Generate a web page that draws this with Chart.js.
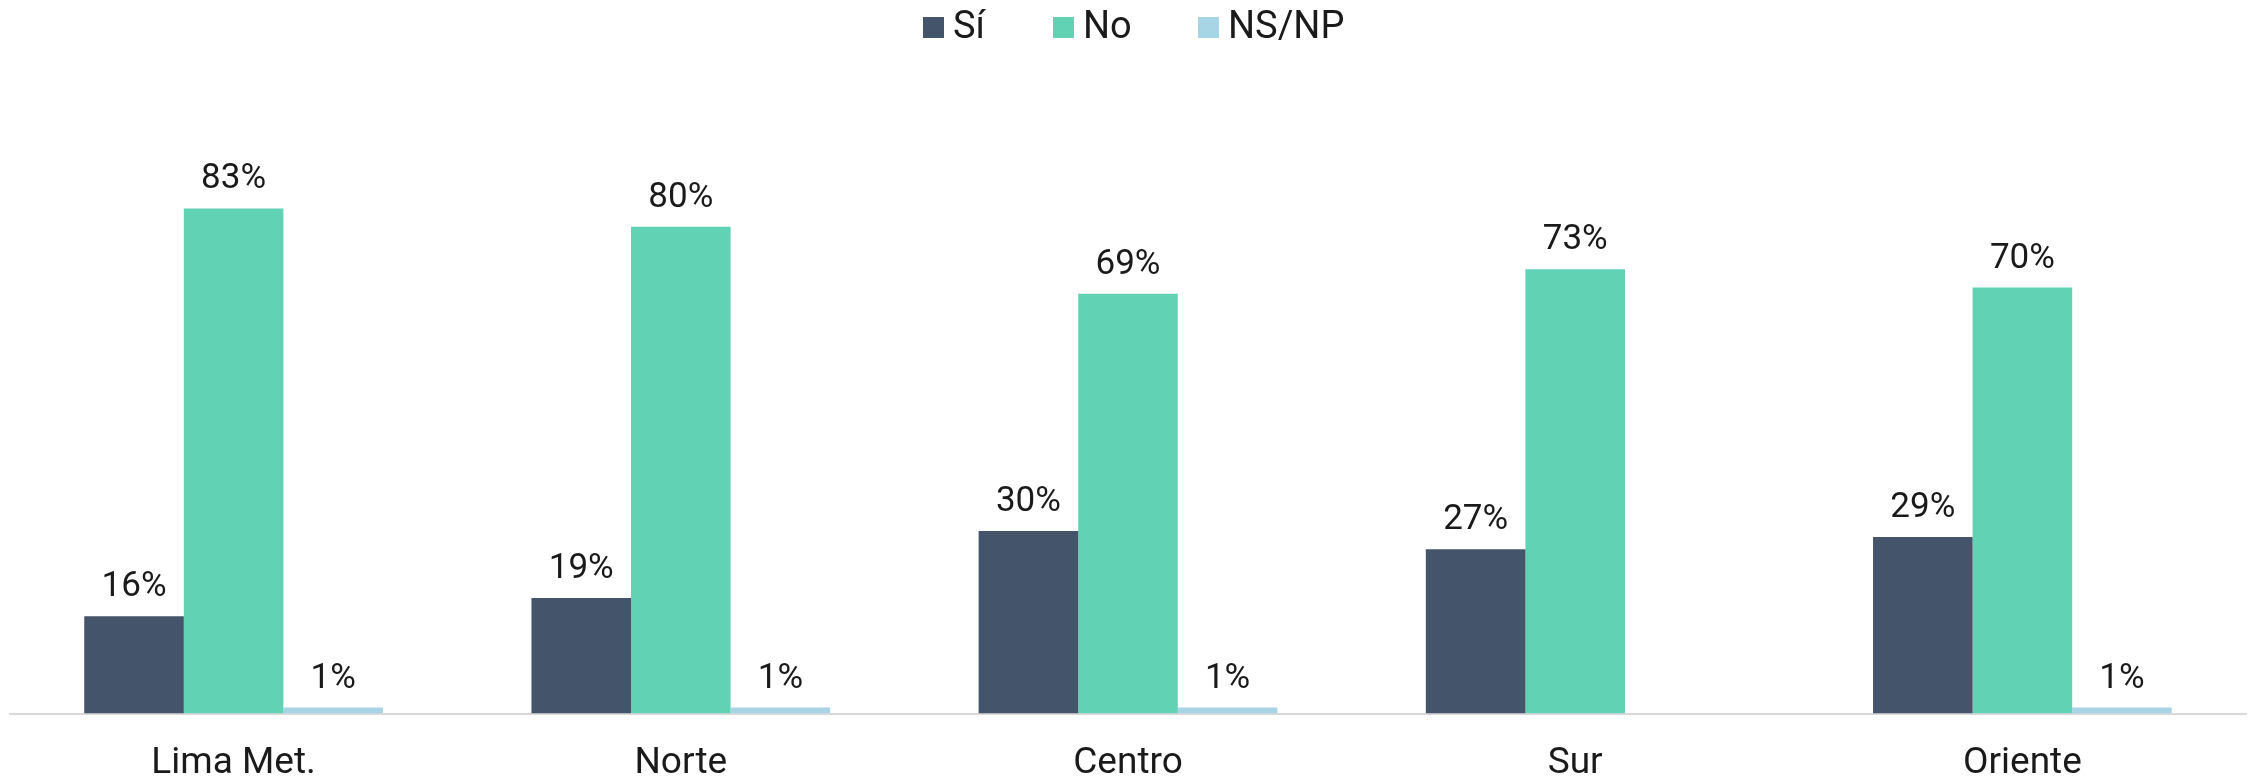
<!DOCTYPE html>
<html>
<head>
<meta charset="utf-8">
<script src="https://cdn.jsdelivr.net/npm/chart.js@4.4.0/dist/chart.umd.min.js"></script>
<style>
  html, body { margin: 0; padding: 0; background: #fff; }
  #wrap { position: relative; width: 2252px; height: 779px; }
  #legend { position: absolute; top: 0; left: 0; width: 100%; height: 50px; font-family: Roboto, sans-serif; font-size: 38px; color: #1a1a1a; }
  #legend span.item { position: absolute; top: 3px; line-height: 44px; white-space: nowrap; }
  #legend span.box { display: inline-block; width: 21px; height: 21px; margin-right: 9px; vertical-align: 0px; }
</style>
</head>
<body>
<div id="wrap">
  <div id="legend"></div>
  <canvas id="chart"></canvas>
</div>
<script>
// Regions and answer shares (%)
const regions = ['Lima Met.', 'Norte', 'Centro', 'Sur', 'Oriente'];
const siValues = [16, 19, 30, 27, 29];
const noValues = [83, 80, 69, 73, 70];
const nsnpValues = [1, 1, 1, 0, 1];

const seriesNames = ['Sí', 'No', 'NS/NP'];
const seriesColors = ['#44546A', '#62D2B5', '#A8D5E5'];
const legendLeft = [923, 1053, 1198];

// Build the legend in HTML so the box/text spacing matches
const legend = document.getElementById('legend');
seriesNames.forEach((name, i) => {
    const item = document.createElement('span');
    item.className = 'item';
    item.style.left = legendLeft[i] + 'px';
    item.innerHTML = '<span class="box" style="background:' + seriesColors[i] + '"></span>' + name;
    legend.appendChild(item);
});

// Draw value labels above each bar (skip zeros)
const valueLabels = {
    id: 'valueLabels',
    afterDatasetsDraw(chart) {
        const ctx = chart.ctx;
        ctx.save();
        ctx.font = '35px Roboto';
        ctx.fillStyle = '#1a1a1a';
        ctx.textAlign = 'center';
        ctx.textBaseline = 'alphabetic';
        chart.data.datasets.forEach((ds, i) => {
            const meta = chart.getDatasetMeta(i);
            meta.data.forEach((bar, j) => {
                const v = ds.data[j];
                if (!v) return;
                ctx.fillText(v + '%', bar.x, bar.y - 20);
            });
        });
        ctx.restore();
    }
};

const ctx = document.getElementById('chart').getContext('2d');
new Chart(ctx, {
    type: 'bar',
    data: {
        labels: regions,
        datasets: [
            { label: seriesNames[0], data: siValues, backgroundColor: seriesColors[0] },
            { label: seriesNames[1], data: noValues, backgroundColor: seriesColors[1] },
            { label: seriesNames[2], data: nsnpValues, backgroundColor: seriesColors[2] }
        ]
    },
    options: {
        responsive: true,
        maintainAspectRatio: false,
        animation: false,
        datasets: {
            bar: { barPercentage: 1, categoryPercentage: 0.668 }
        },
        layout: { padding: { left: 10, right: 6, top: 105, bottom: -27 } },
        plugins: {
            legend: { display: false },
            tooltip: { enabled: false }
        },
        scales: {
            x: {
                grid: { display: false },
                border: { display: true, color: '#D9D9D9', width: 2 },
                ticks: {
                    font: { family: 'Roboto', size: 37 },
                    color: '#1a1a1a',
                    padding: 20
                }
            },
            y: {
                display: false,
                min: 0,
                max: 100
            }
        }
    },
    plugins: [valueLabels]
});
</script>
</body>
</html>
